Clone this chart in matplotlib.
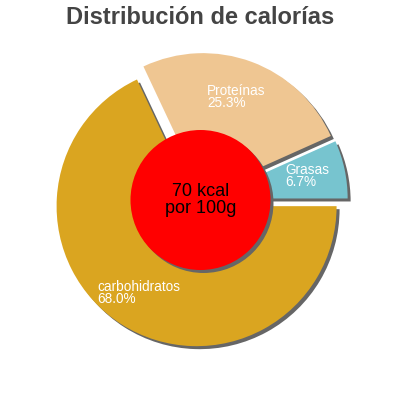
import matplotlib.pyplot as plt
import matplotlib.patches as mpatches

categories = ["Grasas", "Proteínas", "carbohidratos"]
percent = [6.7, 25.3, 68.0]
kcal = 70

colors = ["#77c4cf", "#efc692", "#daa520"]
# label anchors (left edge, vertical centre) in pixel coords of the 400x400 image
label_pos = [(285, 176), (207, 97), (97, 293)]

fig = plt.figure(figsize=(4, 4), dpi=100)
ax = fig.add_axes([0, 0, 1, 1])

cx, cy, r = 200.5, 200, 140
wedges, _ = ax.pie(percent, colors=colors, startangle=0, counterclock=True,
                   explode=[7.3] * 3, center=(cx, cy), radius=r,
                   wedgeprops=dict(linewidth=0))

# gray drop shadows, offset right/down
for w in wedges:
    sh = mpatches.Wedge((w.center[0] + 3, w.center[1] - 3), w.r, w.theta1, w.theta2,
                        facecolor="#666666", edgecolor="none", zorder=0)
    ax.add_patch(sh)

ax.add_patch(mpatches.Circle((cx + 3, cy - 3), 70, facecolor="#666666",
                             edgecolor="none", zorder=4))
ax.add_patch(mpatches.Circle((cx, cy), 70, facecolor="#ff0000",
                             edgecolor="none", zorder=5))
ax.text(cx, cy, f"{kcal} kcal\npor 100g", ha="center", va="center",
        fontsize=13, color="black", family="Liberation Sans", zorder=6,
        linespacing=1.0)

for name, p, (lx, ly) in zip(categories, percent, label_pos):
    ax.text(lx, 400 - ly, f"{name}\n{p:.1f}%", ha="left", va="center",
            fontsize=9.8, color="white", family="Liberation Sans",
            linespacing=0.85, zorder=6)

ax.text(200, 400 - 17, "Distribución de calorías", ha="center", va="center",
        fontsize=17, fontweight="bold", color="#444444", family="Liberation Sans")

ax.set_xlim(0, 400)
ax.set_ylim(0, 400)
ax.set_aspect("equal")
ax.axis("off")

fig.savefig("out.png", dpi=100)
